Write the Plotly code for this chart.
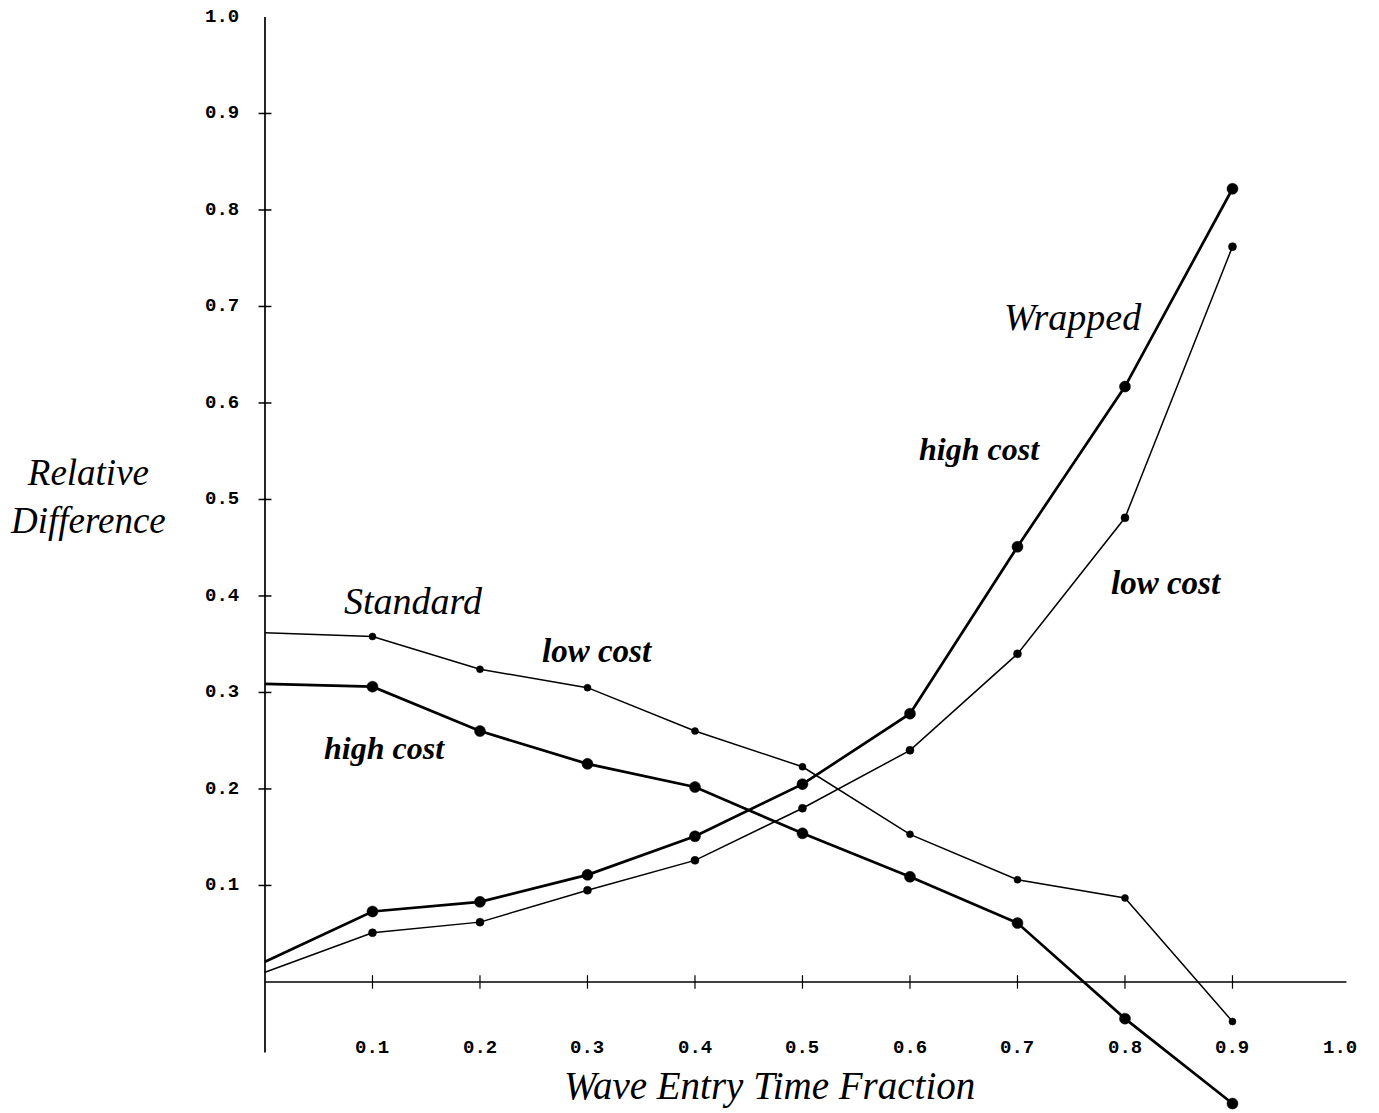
import plotly.graph_objects as go

# Wave entry time fraction (x) and relative difference for each scheme
x_vals = [0.0, 0.1, 0.2, 0.3, 0.4, 0.5, 0.6, 0.7, 0.8, 0.9]
standard_low = [0.362, 0.358, 0.324, 0.305, 0.260, 0.223, 0.153, 0.106, 0.087, -0.041]
standard_high = [0.309, 0.306, 0.260, 0.226, 0.202, 0.154, 0.109, 0.061, -0.038, -0.126]
wrapped_high = [0.021, 0.073, 0.083, 0.111, 0.151, 0.205, 0.278, 0.451, 0.617, 0.822]
wrapped_low = [0.010, 0.051, 0.062, 0.095, 0.126, 0.180, 0.240, 0.340, 0.481, 0.762]

x_ticks = [0.1, 0.2, 0.3, 0.4, 0.5, 0.6, 0.7, 0.8, 0.9]
x_tick_labels = ["0.1", "0.2", "0.3", "0.4", "0.5", "0.6", "0.7", "0.8", "0.9", "1.0"]
x_label_pos = [0.1, 0.2, 0.3, 0.4, 0.5, 0.6, 0.7, 0.8, 0.9, 1.0]
y_ticks = [0.1, 0.2, 0.3, 0.4, 0.5, 0.6, 0.7, 0.8, 0.9]
y_tick_labels = ["0.1", "0.2", "0.3", "0.4", "0.5", "0.6", "0.7", "0.8", "0.9", "1.0"]
y_label_pos = [0.1, 0.2, 0.3, 0.4, 0.5, 0.6, 0.7, 0.8, 0.9, 1.0]

SERIF = "Liberation Serif, Times New Roman, serif"
MONO = "Liberation Mono, Courier New, monospace"

fig = go.Figure()


def add_series(yv, width, msize):
    sizes = [0] + [msize] * (len(x_vals) - 1)
    fig.add_trace(go.Scatter(
        x=x_vals, y=yv, mode="lines+markers",
        line=dict(color="black", width=width),
        marker=dict(color="black", size=sizes, opacity=1,
                    line=dict(color="black", width=0.5)),
        showlegend=False, hoverinfo="skip",
    ))


add_series(standard_low, 1.5, 7)
add_series(standard_high, 2.7, 11)
add_series(wrapped_low, 1.5, 8)
add_series(wrapped_high, 2.7, 11)

# Axis lines through the origin
shapes = [
    dict(type="line", x0=0, x1=1.006, y0=0, y1=0, line=dict(color="black", width=1.4)),
    dict(type="line", x0=0, x1=0, y0=-0.073, y1=1.0, line=dict(color="black", width=1.7)),
]
# Tick marks crossing the axes
for t in x_ticks:
    shapes.append(dict(type="line", x0=t, x1=t, y0=-0.007, y1=0.007,
                       line=dict(color="black", width=1.2)))
for t in y_ticks:
    shapes.append(dict(type="line", x0=-0.006, x1=0.006, y0=t, y1=t,
                       line=dict(color="black", width=1.5)))

annotations = []
for pos, lab in zip(x_label_pos, x_tick_labels):
    annotations.append(dict(x=pos, y=-0.068, text="<b>" + lab + "</b>", showarrow=False,
                            font=dict(family=MONO, size=19, color="black"),
                            xanchor="center", yanchor="middle"))
for pos, lab in zip(y_label_pos, y_tick_labels):
    annotations.append(dict(x=-0.022, y=pos, text="<b>" + lab + "</b>", showarrow=False,
                            font=dict(family=MONO, size=19, color="black"),
                            xanchor="right", yanchor="middle"))

# Series and axis captions
captions = [
    (0.138, 0.395, "<i>Standard</i>", 38),
    (0.309, 0.343, "<b><i>low cost</i></b>", 33),
    (0.111, 0.242, "<b><i>high cost</i></b>", 32),
    (0.752, 0.689, "<i>Wrapped</i>", 38),
    (0.665, 0.552, "<b><i>high cost</i></b>", 32),
    (0.838, 0.413, "<b><i>low cost</i></b>", 33),
]
for cx, cy, txt, sz in captions:
    annotations.append(dict(x=cx, y=cy, text=txt, showarrow=False,
                            font=dict(family=SERIF, size=sz, color="black"),
                            xanchor="center", yanchor="middle"))

annotations.append(dict(x=-0.165, y=0.503, text="<i>Relative<br>Difference</i>",
                        showarrow=False, align="center",
                        font=dict(family=SERIF, size=37, color="black"),
                        xanchor="center", yanchor="middle"))
annotations.append(dict(x=0.469, y=-0.108, text="<i>Wave Entry Time Fraction</i>",
                        showarrow=False,
                        font=dict(family=SERIF, size=39, color="black"),
                        xanchor="center", yanchor="middle"))

fig.update_layout(
    width=1379, height=1113,
    margin=dict(l=0, r=0, t=0, b=0),
    paper_bgcolor="white", plot_bgcolor="white",
    xaxis=dict(range=[-0.2465, 1.0363], visible=False, fixedrange=True),
    yaxis=dict(range=[-0.1358, 1.0176], visible=False, fixedrange=True),
    shapes=shapes, annotations=annotations,
)

fig.write_html("out.html")
